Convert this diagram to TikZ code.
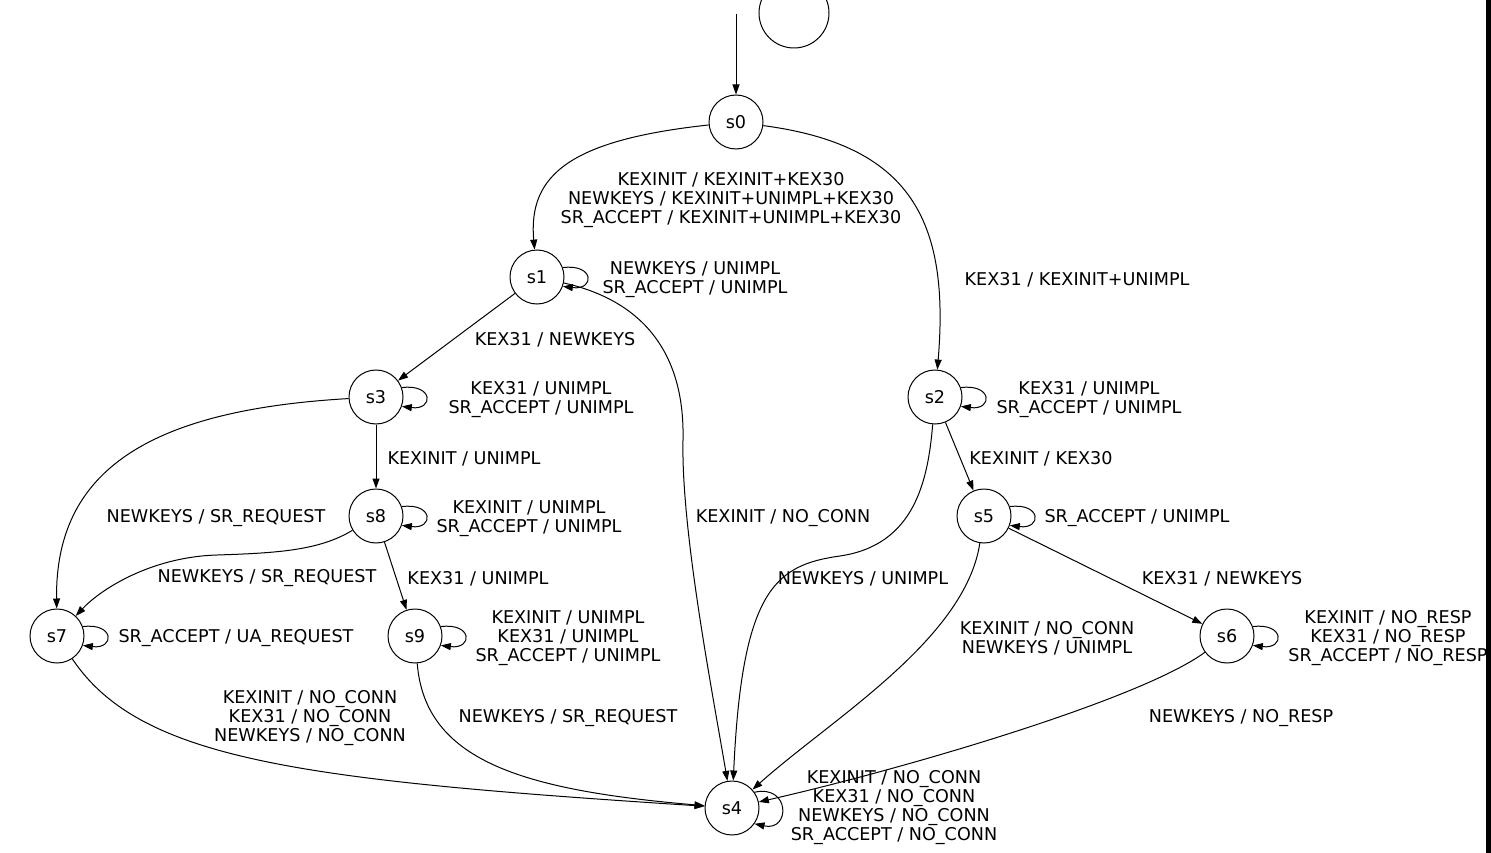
\documentclass[tikz,border=0pt]{standalone}
\usepackage{fontspec}
\setmainfont{DejaVu Sans}
\usetikzlibrary{arrows.meta}
\newcommand\lblfont{\fontsize{17.6}{19}\selectfont}
\tikzset{
  st/.style={circle, draw, line width=1pt, minimum size=54pt, inner sep=0pt, font=\lblfont},
  tr/.style={-{Triangle[length=10pt,width=7pt]}, line width=1pt},
  lab/.style={align=center, inner sep=0pt, font=\lblfont, yshift=-2.5pt},
}
\begin{document}
\begin{tikzpicture}[x=1pt,y=-1pt]
\useasboundingbox (0,0) rectangle (1491,853);
\fill[white] (0,0) rectangle (1491,853);
% states
\node[circle, draw, line width=1pt, minimum size=70pt, inner sep=0pt] (top) at (794,13) {};
\coordinate (init) at (736,14);
\node[st] (s0) at (736,122) {s0};
\node[st] (s1) at (537,277) {s1};
\node[st] (s2) at (935,397) {s2};
\node[st] (s3) at (376,397) {s3};
\node[st] (s8) at (376,516) {s8};
\node[st] (s5) at (984,516) {s5};
\node[st] (s7) at (57,636) {s7};
\node[st] (s9) at (415,636) {s9};
\node[st] (s6) at (1227,636) {s6};
\node[st] (s4) at (732,808) {s4};
% edges
\draw[tr] (init) -- (s0);
\draw[tr] (s0) .. controls (570,140) and (528,175) .. (s1);
\draw[tr] (s0) .. controls (910,145) and (950,220) .. (s2);
\draw[tr] (s1.20) .. controls +(32,-4) and +(32,4) .. (s1.-20);
\draw[tr] (s1) -- (s3);
\draw[tr] (s1) .. controls (640,300) and (685,350) .. (683,440) .. controls (681,530) and (712,690) .. (s4);
\draw[tr] (s2.20) .. controls +(32,-4) and +(32,4) .. (s2.-20);
\draw[tr] (s2) -- (s5);
\draw[tr] (s2) .. controls (928,480) and (915,545) .. (840,556) .. controls (775,565) and (742,590) .. (s4);
\draw[tr] (s3.20) .. controls +(32,-4) and +(32,4) .. (s3.-20);
\draw[tr] (s3) -- (s8);
\draw[tr] (s3) .. controls (150,410) and (55,470) .. (s7);
\draw[tr] (s8.20) .. controls +(32,-4) and +(32,4) .. (s8.-20);
\draw[tr] (s8) -- (s9);
\draw[tr] (s8) .. controls (320,550) and (280,553) .. (217,555) .. controls (150,557) and (100,590) .. (s7);
\draw[tr] (s5.20) .. controls +(32,-4) and +(32,4) .. (s5.-20);
\draw[tr] (s5) -- (s6);
\draw[tr] (s5) .. controls (965,640) and (830,720) .. (s4);
\draw[tr] (s7.20) .. controls +(32,-4) and +(32,4) .. (s7.-20);
\draw[tr] (s7) .. controls (140,760) and (300,780) .. (s4);
\draw[tr] (s9.20) .. controls +(32,-4) and +(32,4) .. (s9.-20);
\draw[tr] (s9) .. controls (425,760) and (520,790) .. (s4);
\draw[tr] (s6.20) .. controls +(32,-4) and +(32,4) .. (s6.-20);
\draw[tr] (s6) .. controls (1140,700) and (900,770) .. (s4);
\draw[tr] (s4.35) .. controls +(36,-8) and +(36,8) .. (s4.-35);
% labels
\node[lab] (l01) at (731,198) {KEXINIT / KEXINIT+KEX30\\NEWKEYS / KEXINIT+UNIMPL+KEX30\\SR\_ACCEPT / KEXINIT+UNIMPL+KEX30};
\node[lab] (l11) at (695,277) {NEWKEYS / UNIMPL\\SR\_ACCEPT / UNIMPL};
\node[lab] (l02) at (1077,277) {KEX31 / KEXINIT+UNIMPL};
\node[lab] (l13) at (555,337) {KEX31 / NEWKEYS};
\node[lab] (l33) at (541,397) {KEX31 / UNIMPL\\SR\_ACCEPT / UNIMPL};
\node[lab] (l22) at (1089,397) {KEX31 / UNIMPL\\SR\_ACCEPT / UNIMPL};
\node[lab] (l38) at (464,456) {KEXINIT / UNIMPL};
\node[lab] (l25) at (1041,456) {KEXINIT / KEX30};
\node[lab] (l37) at (216,516) {NEWKEYS / SR\_REQUEST};
\node[lab] (l88) at (529,516) {KEXINIT / UNIMPL\\SR\_ACCEPT / UNIMPL};
\node[lab] (l14) at (783,516) {KEXINIT / NO\_CONN};
\node[lab] (l55) at (1137,516) {SR\_ACCEPT / UNIMPL};
\node[lab] (l87) at (267,576) {NEWKEYS / SR\_REQUEST};
\node[lab] (l89) at (478,576) {KEX31 / UNIMPL};
\node[lab] (l24) at (863,576) {NEWKEYS / UNIMPL};
\node[lab] (l56) at (1222,576) {KEX31 / NEWKEYS};
\node[lab] (l77) at (236,636) {SR\_ACCEPT / UA\_REQUEST};
\node[lab] (l99) at (568,636) {KEXINIT / UNIMPL\\KEX31 / UNIMPL\\SR\_ACCEPT / UNIMPL};
\node[lab] (l54) at (1047,636) {KEXINIT / NO\_CONN\\NEWKEYS / UNIMPL};
\node[lab] (l66) at (1388,636) {KEXINIT / NO\_RESP\\KEX31 / NO\_RESP\\SR\_ACCEPT / NO\_RESP};
\node[lab] (l74) at (310,716) {KEXINIT / NO\_CONN\\KEX31 / NO\_CONN\\NEWKEYS / NO\_CONN};
\node[lab] (l94) at (568,716) {NEWKEYS / SR\_REQUEST};
\node[lab] (l64) at (1241,716) {NEWKEYS / NO\_RESP};
\node[lab] (l44) at (894,805) {KEXINIT / NO\_CONN\\KEX31 / NO\_CONN\\NEWKEYS / NO\_CONN\\SR\_ACCEPT / NO\_CONN};
% right edge bar
\fill[black] (1486,0) rectangle (1491,853);
\end{tikzpicture}
\end{document}
